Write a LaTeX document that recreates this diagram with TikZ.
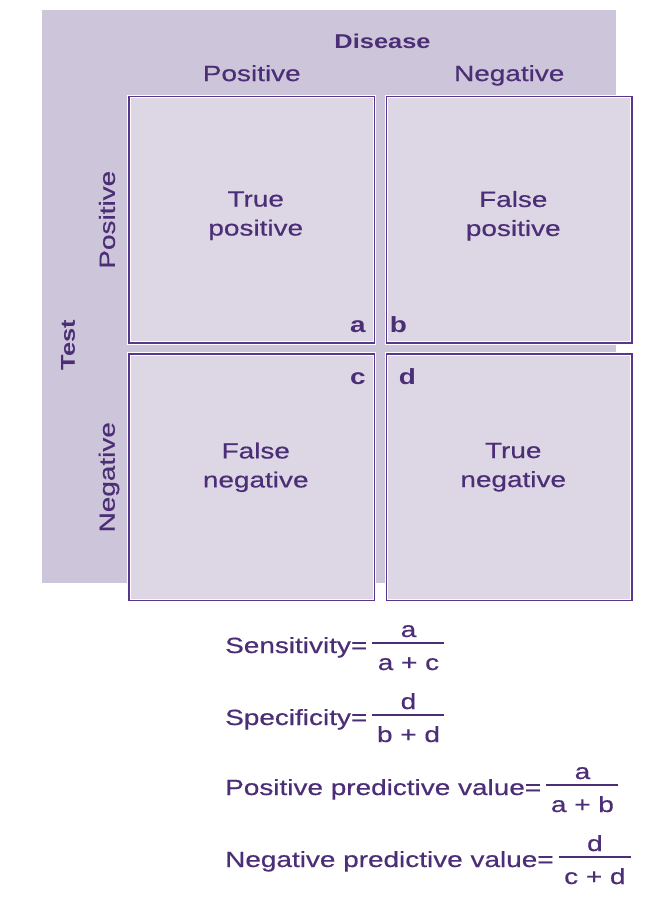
\documentclass[tikz,border=0pt]{standalone}
\usepackage{fontspec}
\setmainfont{Liberation Sans}[FakeStretch=1.27, UprightFeatures={FakeBold=0.5}]
\usepackage{tikz}
\usetikzlibrary{positioning}

\definecolor{panelbg}{RGB}{205,197,217}
\definecolor{cellbg}{RGB}{221,215,229}
\definecolor{cellline}{RGB}{88,54,140}
\definecolor{inkpurple}{RGB}{76,46,118}

\tikzset{
  cell/.style={draw=white, line width=0.9pt, double=cellline, double distance=1.7pt, fill=cellbg,
    minimum width=245.5pt, minimum height=246.5pt, inner sep=0pt},
  celltext/.style={align=center, text=inkpurple, inner sep=0pt, font=\fontsize{22}{29}\selectfont},
  head/.style={text=inkpurple, inner sep=0pt, font=\fontsize{22}{26}\selectfont},
  boldhead/.style={text=inkpurple, inner sep=0pt, font=\fontsize{20}{24}\selectfont\bfseries},
  corner/.style={text=inkpurple, inner sep=0pt, font=\fontsize{22}{26}\selectfont\bfseries},
  formula/.style={text=inkpurple, inner sep=0pt, font=\fontsize{22}{26}\selectfont},
  barline/.style={draw=inkpurple, line width=1.3pt}
}

\begin{document}
\begin{tikzpicture}[x=1pt, y=-1pt, ampersand replacement=\&]
  \useasboundingbox (0,0) rectangle (671,902);
  \fill[white] (0,0) rectangle (671,902);
  % panel behind the table
  \fill[panelbg] (42,10) rectangle (616,583);

  \matrix (grid) [nodes={cell}, row sep=7.5pt, column sep=8.5pt, inner sep=0pt] at (380.5,348.5) {
    \node (tp) {}; \& \node (fp) {}; \\
    \node (fn) {}; \& \node (tn) {}; \\
  };

  \node[celltext] (tptext) at ([xshift=4pt, yshift=4pt]tp.center) {True\\positive};
  \node[celltext] (fptext) at ([xshift=4pt, yshift=4pt]fp.center) {False\\positive};
  \node[celltext] (fntext) at ([xshift=4pt, yshift=10pt]fn.center) {False\\negative};
  \node[celltext] (tntext) at ([xshift=4pt, yshift=10pt]tn.center) {True\\negative};

  \node[corner, anchor=base east] (la) at ([xshift=-9pt, yshift=11pt]tp.south east) {a};
  \node[corner, anchor=base west] (lb) at ([xshift=3.5pt, yshift=11pt]fp.south west) {b};
  \node[corner, anchor=base east] (lc) at ([xshift=-9pt, yshift=-31pt]fn.north east) {c};
  \node[corner, anchor=base west] (ld) at ([xshift=12.5pt, yshift=-31pt]tn.north west) {d};

  \node[boldhead, anchor=base] (disease) at (382.5,48) {Disease};
  \node[head, anchor=base] (colpos) at ([yshift=15pt]tp.north) {Positive};
  \node[head, anchor=base] (colneg) at ([yshift=15pt]fp.north) {Negative};

  \node[boldhead, rotate=90] (test) at (68,345) {Test};
  \node[head, rotate=90] (rowpos) at ([xshift=-21.5pt]tp.west) {Positive};
  \node[head, rotate=90] (rowneg) at ([xshift=-19.5pt]fn.west) {Negative};

  % formulas under the table
  \foreach \nm/\yb/\lbl/\num/\den in {sens/653/Sensitivity=/a/a + c, spec/725/Specificity=/d/b + d,
      ppv/795/Positive predictive value=/a/a + b, npv/867/Negative predictive value=/d/c + d} {
    \node[formula, anchor=base west] (\nm) at (225,\yb) {\lbl};
    \coordinate (\nm-l) at ([xshift=5pt, yshift=10pt]\nm.base east);
    \coordinate (\nm-m) at ([xshift=41pt, yshift=10pt]\nm.base east);
    \coordinate (\nm-r) at ([xshift=77pt, yshift=10pt]\nm.base east);
    \draw[barline] (\nm-l) -- (\nm-r);
    \node[formula, anchor=base] (\nm-num) at ([yshift=6pt]\nm-m) {\num};
    \node[formula, anchor=base] (\nm-den) at ([yshift=-27pt]\nm-m) {\den};
  }
\end{tikzpicture}
\end{document}
